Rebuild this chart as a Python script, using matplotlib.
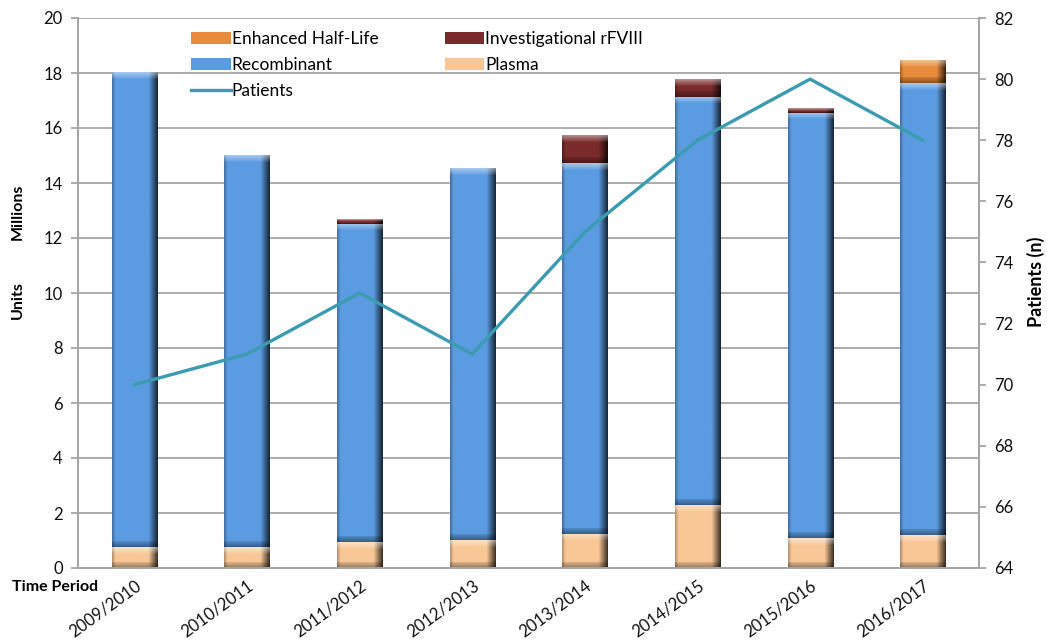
import numpy as np
import matplotlib
matplotlib.use("Agg")
import matplotlib.pyplot as plt
from matplotlib.colors import to_rgb

# ---- data -------------------------------------------------------------
periods = ["2009/2010", "2010/2011", "2011/2012", "2012/2013",
           "2013/2014", "2014/2015", "2015/2016", "2016/2017"]
plasma = [0.75, 0.75, 0.93, 1.00, 1.24, 2.29, 1.08, 1.19]
recombinant = [17.25, 14.25, 11.57, 13.50, 13.48, 14.84, 15.47, 16.43]
investigational = [0.0, 0.0, 0.17, 0.0, 1.00, 0.65, 0.15, 0.0]
enhanced_half_life = [0.0, 0.0, 0.0, 0.0, 0.0, 0.0, 0.0, 0.82]
patients = [70, 71, 73, 71, 75, 78, 80, 78]

left_ticks = list(range(0, 21, 2))
right_ticks = list(range(64, 83, 2))

# ---- styling ----------------------------------------------------------
plt.rcParams["font.family"] = ["Lato", "DejaVu Sans"]
C_PLASMA = "#f9c796"
C_RECOMB = "#5b9be1"
C_INVEST = "#7a2a2a"
C_EHL = "#e98b3c"
C_LINE = "#3b9bb0"
GRID = "#a6a6a6"

fig = plt.figure(figsize=(10.47, 6.41), dpi=100)
ax = fig.add_axes([78 / 1047, 1 - 568 / 641, (979 - 78) / 1047, 550 / 641])

x = np.arange(len(periods))
width = 0.40

bottom = np.zeros(len(periods))
stacks = []
for vals, col, name in [(plasma, C_PLASMA, "Plasma"),
                        (recombinant, C_RECOMB, "Recombinant"),
                        (investigational, C_INVEST, "Investigational rFVIII"),
                        (enhanced_half_life, C_EHL, "Enhanced Half-Life")]:
    vals = np.asarray(vals, dtype=float)
    bc = ax.bar(x, vals, width, bottom=bottom, color=col, label=name,
                edgecolor="none", zorder=2)
    stacks.append((bc, col))
    bottom = bottom + vals

ax.set_xlim(-0.5, len(periods) - 0.5)
ax.set_ylim(0, 20)
ax.set_yticks(left_ticks)


def bevel_fill(axis, bars, color):
    """Paint each bar with a bevelled, edge-darkened gradient."""
    base = np.array(to_rgb(color))
    px_per_unit = (axis.transData.transform((0, 1))[1]
                   - axis.transData.transform((0, 0))[1])
    nx = 60
    xs = np.linspace(0, 1, nx)
    prof = np.ones(nx)
    prof = np.where(xs > 0.80, 1 - (xs - 0.80) / 0.20 * 0.75, prof)
    prof = np.where(xs < 0.07, 0.72 + xs / 0.07 * 0.28, prof)
    for rect in bars:
        h = rect.get_height()
        if h <= 0:
            continue
        ny = max(int(round(h * px_per_unit)), 2)
        img = np.tile(base, (ny, nx, 1)) * prof[None, :, None]
        top = min(7, ny // 2)
        bot = min(6, ny // 3)
        for r in range(top):
            k = 0.45 * (1 - r / max(top, 1))
            img[r] = img[r] + (1 - img[r]) * k
        for r in range(bot):
            img[ny - 1 - r] = img[ny - 1 - r] * (0.62 + 0.3 * r / max(bot, 1))
        img = np.clip(img, 0, 1)
        x0 = rect.get_x()
        y0 = rect.get_y()
        axis.imshow(img, extent=(x0, x0 + rect.get_width(), y0, y0 + h),
                    aspect="auto", origin="upper", interpolation="bilinear",
                    zorder=2.1)


for bc, col in stacks:
    bevel_fill(ax, bc, col)

ax.set_xlim(-0.5, len(periods) - 0.5)
ax.set_ylim(0, 20)

ax.yaxis.grid(True, color=GRID, lw=1.3, zorder=0)
ax.set_axisbelow(True)
ax.spines["top"].set_visible(False)
for side in ["left", "right", "bottom"]:
    ax.spines[side].set_color(GRID)
    ax.spines[side].set_linewidth(1.3)
ax.tick_params(axis="y", length=5, color=GRID, width=1.3, labelsize=12,
               pad=6, labelcolor="#111111")
ax.tick_params(axis="x", length=0, labelsize=12, pad=7, labelcolor="#111111")
ax.set_xticks(x)
ax.set_xticklabels(periods, rotation=36, ha="right", rotation_mode="anchor")

ax2 = ax.twinx()
line, = ax2.plot(x, patients, color=C_LINE, lw=2.4, label="Patients",
                 solid_joinstyle="round", zorder=5)
ax2.set_ylim(64, 82)
ax2.set_yticks(right_ticks)
ax2.spines["top"].set_visible(False)
for side in ["left", "right", "bottom"]:
    ax2.spines[side].set_color(GRID)
    ax2.spines[side].set_linewidth(1.3)
ax2.tick_params(axis="y", length=5, color=GRID, width=1.3, labelsize=12,
                pad=6, labelcolor="#111111")

# axis titles
fig.text(18 / 1047, 1 - 300 / 641, "Units", rotation=90, fontsize=11.5,
         fontweight="bold", ha="center", va="center")
fig.text(18 / 1047, 1 - 212 / 641, "Millions", rotation=90, fontsize=11.5,
         fontweight="bold", ha="center", va="center")
fig.text(12 / 1047, 1 - 587 / 641, "Time Period", fontsize=11.5,
         fontweight="bold", ha="left", va="center")
fig.text(1036 / 1047, 1 - 282 / 641, "Patients (n)", rotation=90,
         fontsize=13, fontweight="bold", ha="center", va="center")

# legend
bars_by_name = {bc.get_label(): bc for bc, _ in stacks}
handles = [bars_by_name["Enhanced Half-Life"], bars_by_name["Recombinant"], line,
           bars_by_name["Investigational rFVIII"], bars_by_name["Plasma"]]
leg = fig.legend(handles=handles, labels=[h.get_label() for h in handles],
                 ncol=2, loc="upper left", bbox_to_anchor=(191 / 1047, 1 - 31 / 641),
                 frameon=False, fontsize=12.5, handlelength=2.3,
                 handleheight=0.7, handletextpad=0.05, labelspacing=0.58,
                 columnspacing=3.8, borderpad=0, borderaxespad=0)

fig.savefig("out.png", dpi=100)
